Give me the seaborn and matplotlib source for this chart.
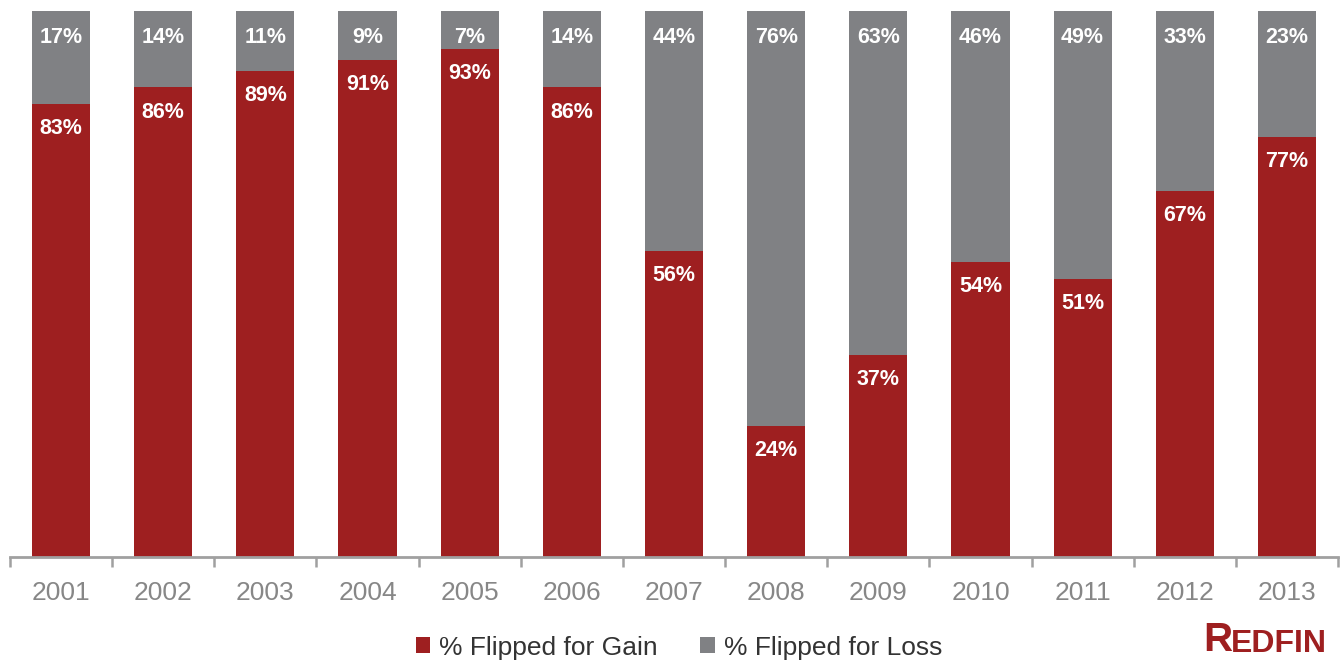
import matplotlib
matplotlib.use("Agg")
import matplotlib.pyplot as plt
from matplotlib.patches import Patch
import seaborn as sns
import pandas as pd

years = ["2001", "2002", "2003", "2004", "2005", "2006", "2007",
         "2008", "2009", "2010", "2011", "2012", "2013"]
gain = [83, 86, 89, 91, 93, 86, 56, 24, 37, 54, 51, 67, 77]
loss = [17, 14, 11, 9, 7, 14, 44, 76, 63, 46, 49, 33, 23]

RED = "#9e1f20"
GRAY = "#808184"
AXIS = "#a0a0a0"
TICKTXT = "#878787"

sns.set_theme(style="white")
plt.rcParams["font.family"] = ["Liberation Sans", "DejaVu Sans"]

df = pd.DataFrame({"year": years, "gain": gain, "loss": loss})
df["total"] = df["gain"] + df["loss"]

fig = plt.figure(figsize=(13.43, 6.61), dpi=100)
W, H = 1343, 661
ax = fig.add_axes([10 / W, 1 - 557 / H, 1328 / W, 546 / H])

# stacked: full bar in gray, gain portion in red on top
sns.barplot(data=df, x="year", y="total", color=GRAY, width=0.57,
            saturation=1, ax=ax, linewidth=0)
sns.barplot(data=df, x="year", y="gain", color=RED, width=0.57,
            saturation=1, ax=ax, linewidth=0)

ax.set_ylim(0, 100)
ax.set_xlim(-0.5, len(years) - 0.5)
ax.set_xlabel("")
ax.set_ylabel("")
ax.set_yticks([])

for s in ["top", "right", "left"]:
    ax.spines[s].set_visible(False)
ax.spines["bottom"].set_color(AXIS)
ax.spines["bottom"].set_linewidth(2)

# boundary ticks between categories, labels at the centres
ax.set_xticks([i - 0.5 for i in range(len(years) + 1)])
ax.set_xticklabels([])
ax.tick_params(axis="x", which="major", direction="out", length=7.5,
               width=1.8, color=AXIS, bottom=True)
ax.set_xticks(range(len(years)), minor=True)
ax.set_xticklabels(years, minor=True)
ax.tick_params(axis="x", which="minor", length=0, pad=17,
               labelsize=19, labelcolor=TICKTXT)

# value labels near the top of each segment
for i, (g, l) in enumerate(zip(gain, loss)):
    ax.text(i, g - 4.5, f"{g}%", ha="center", va="center",
            color="white", fontsize=15.5, fontweight="bold")
    ax.text(i, g + l - 4.9, f"{l}%", ha="center", va="center",
            color="white", fontsize=15.5, fontweight="bold")

handles = [Patch(facecolor=RED, edgecolor="none", label="% Flipped for Gain"),
           Patch(facecolor=GRAY, edgecolor="none", label="% Flipped for Loss")]
fig.legend(handles=handles, loc="center", bbox_to_anchor=(0.5056, 0.02),
           ncol=2, frameon=False, fontsize=19, handlelength=0.55,
           handleheight=0.55, handletextpad=0.35, columnspacing=1.6,
           labelcolor="#333333")

# logo in the lower right corner
fig.text(1203 / W, 2 / H, "R", color=RED, fontsize=29,
         fontweight="bold", ha="left", va="bottom")
fig.text(1231 / W, 2 / H, "EDFIN", color=RED, fontsize=23,
         fontweight="bold", ha="left", va="bottom")

fig.savefig("out.png", dpi=100)
